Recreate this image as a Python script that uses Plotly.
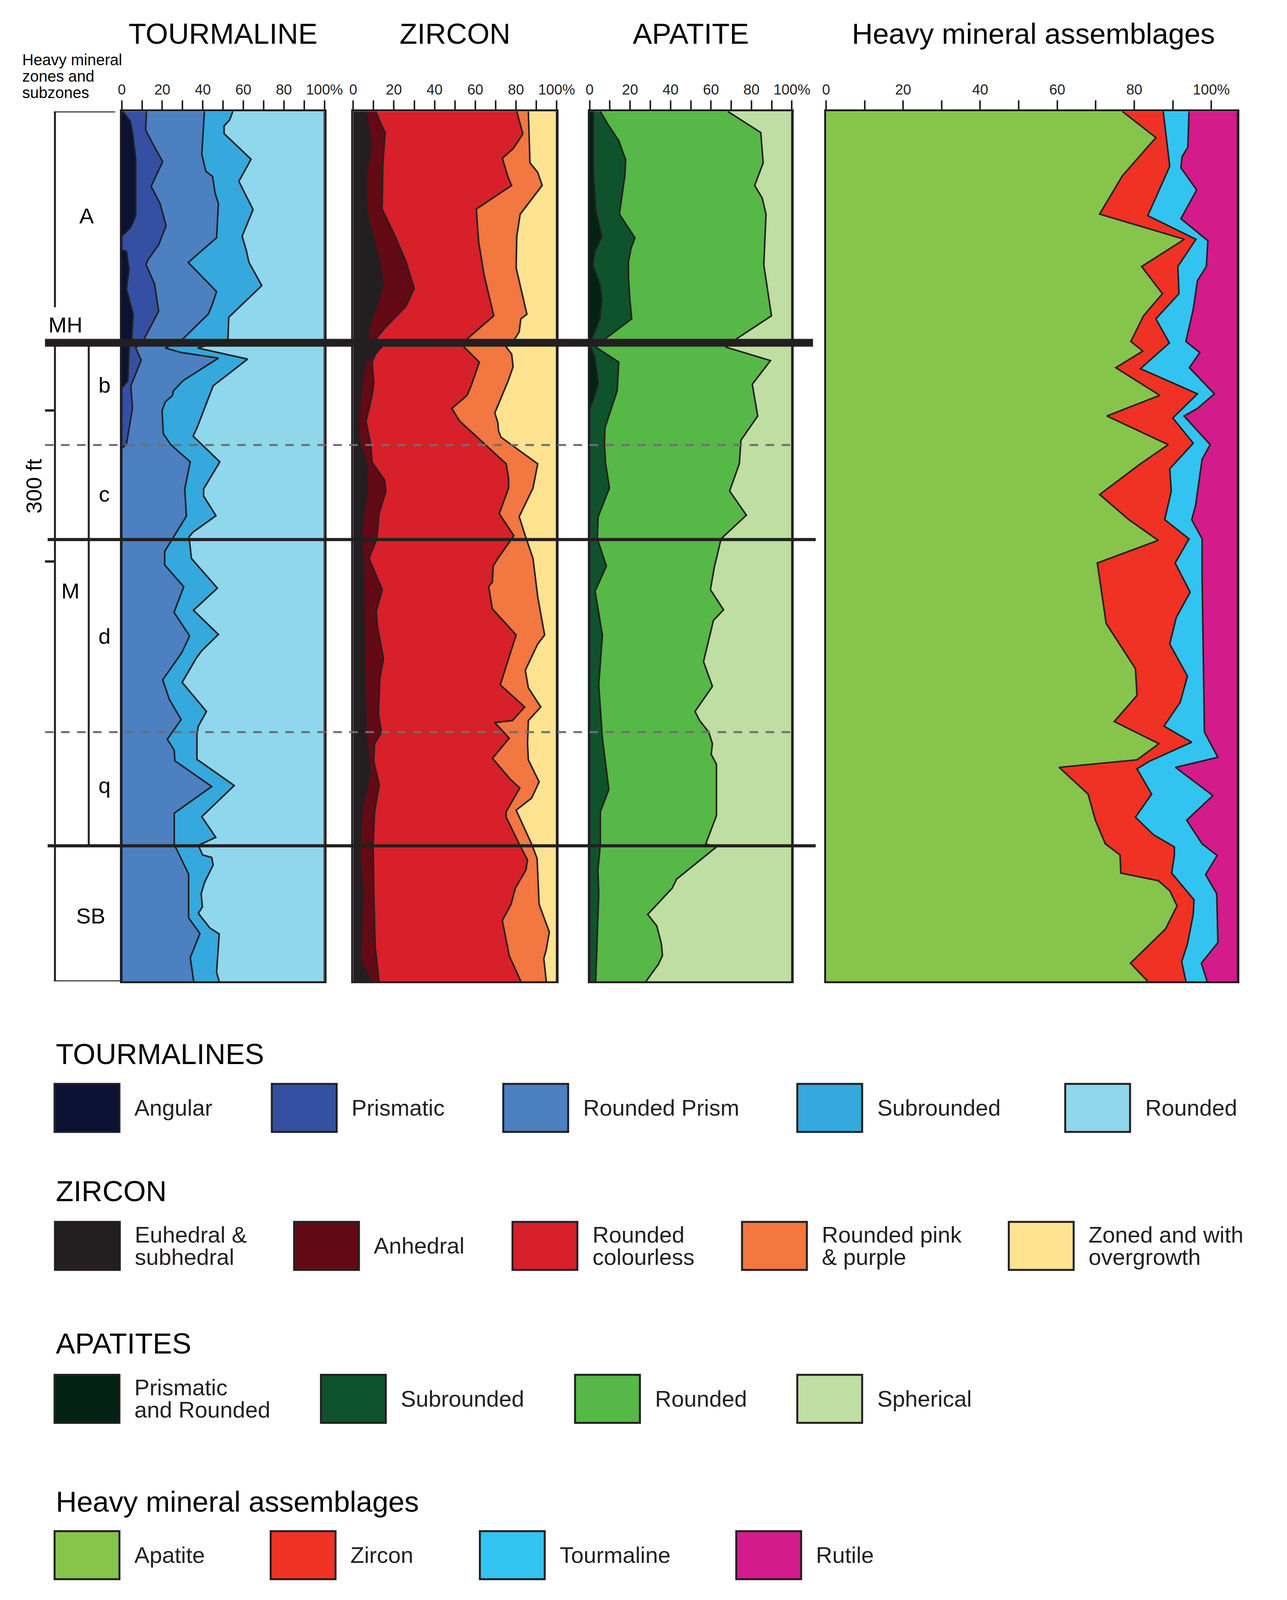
import plotly.graph_objects as go

# frame of the original drawing (px) and the size the figure is drawn at
W, H = 3295, 4157
FIG_H = 4089
INK = "#231f20"
FONT = "Liberation Sans, Arial, Helvetica, sans-serif"

# depth frame, ft below top of the logged section
section_bottom = 1728
zone_depths = [459.5, 850.4, 1458.8]      # tops of M(H), M, SB
subzone_depths = [662.6, 1233.0]          # tops of c and q (dashed)
scale_ticks = [594, 894]                  # 300 ft bar

# ---- TOURMALINE: right edge of each band (cumulative %) against depth ----
tm_angular_d = [0, 20, 51, 95, 207, 231, 248, 275, 278, 314, 353, 402, 453, 470, 535, 545, 550, 1728]
tm_angular_x = [0.5, 4.3, 5.6, 6.9, 6.9, 4.3, 0, 0, 2.3, 3.6, 2.3, 5.6, 4.9, 3.6, 3.0, 1.0, 0, 0]
tm_prismatic_d = [0, 37, 61, 100, 149, 183, 227, 265, 295, 304, 343, 397, 453, 470, 494, 545, 589, 662, 669, 1728]
tm_prismatic_x = [12.2, 11.8, 14.9, 20.2, 14.5, 18.9, 21.9, 18.2, 12.9, 12.0, 16.2, 18.2, 10.9, 6.9, 9.6, 4.5, 5.3, 2.3, 0, 0]
tm_rprism_d = [0, 85, 119, 129, 163, 183, 251, 300, 358, 382, 402, 453, 470, 479, 490, 535, 555, 565, 577, 594,
               640, 662, 696, 750, 804, 847, 874, 901, 944, 995, 1042, 1076, 1129, 1168, 1208, 1247, 1269, 1290,
               1341, 1394, 1458, 1462, 1515, 1602, 1633, 1681, 1728]
tm_rprism_x = [40.8, 39.5, 41.5, 44.8, 46.1, 47.7, 46.8, 32.8, 46.8, 44.8, 42.8, 29.9, 21.5, 29.5, 47.7, 30.2, 25.5,
               24.9, 21.5, 19.9, 20.5, 24.2, 33.8, 31.1, 31.9, 25.3, 21.2, 21.2, 30.6, 25.8, 33.5, 29.5, 20.2, 23.5,
               29.3, 22.5, 25.9, 26.2, 44.4, 25.9, 25.9, 26.6, 33.0, 33.0, 38.6, 33.8, 35.5]
tm_subr_d = [0, 17, 29, 44, 95, 139, 195, 248, 275, 300, 346, 409, 453, 470, 492, 545, 628, 645, 696, 750, 764,
             803, 836, 845, 888, 947, 991, 1039, 1071, 1086, 1134, 1192, 1221, 1238, 1287, 1339, 1401, 1442, 1458,
             1477, 1482, 1497, 1532, 1554, 1580, 1593, 1622, 1634, 1710, 1728]
tm_subr_x = [54.8, 53.2, 50.5, 50.5, 63.8, 57.8, 64.8, 59.4, 61.4, 62.8, 69.1, 52.8, 52.4, 37.5, 62.1, 45.1, 37.2,
             35.2, 48.4, 40.4, 40.4, 46.5, 35.1, 33.2, 34.4, 47.2, 35.4, 47.7, 39.5, 36.8, 29.8, 41.8, 37.8, 37.1,
             37.1, 55.5, 39.5, 46.4, 37.8, 39.9, 44.4, 45.1, 40.8, 39.2, 39.8, 37.8, 43.5, 48.1, 46.8, 48.1]
tm_rounded_d = [0, 1728]
tm_rounded_x = [100, 100]

# ---- ZIRCON ----
zr_euhedral_d = [0, 42, 64, 93, 121, 197, 254, 298, 343, 374, 419, 452, 468, 482, 498, 564, 628, 662, 697, 754,
                 805, 849, 906, 1081, 1233, 1315, 1338, 1391, 1478, 1548, 1689, 1728]
zr_euhedral_x = [6.3, 8.1, 8.9, 8.1, 6.3, 6.6, 10.1, 13.1, 14.6, 12.7, 8.6, 7.1, 14, 11, 6, 3.6, 2.6, 3.5, 6.5, 7,
                 4.8, 4.2, 5.1, 5.6, 6.3, 8.6, 7.1, 4.1, 3.3, 4.8, 3.6, 9]
zr_anhedral_d = [0, 20, 42, 102, 194, 248, 298, 352, 387, 412, 431, 452, 468, 482, 498, 539, 564, 590, 615, 662,
                 697, 732, 754, 799, 849, 888, 950, 993, 1023, 1087, 1125, 1198, 1233, 1256, 1291, 1338, 1391, 1455,
                 1548, 1659, 1728]
zr_anhedral_x = [11.1, 13.1, 15.7, 14.6, 14.2, 20.6, 25.9, 30, 25.9, 19.9, 15.4, 11.1, 14, 11, 9.3, 10.1, 9.3, 7.8,
                 6.3, 8.6, 9.3, 15.4, 16.1, 12.7, 11.6, 7.8, 14.3, 11.3, 11.9, 14.9, 13.1, 12.4, 13.9, 10.5, 10.1,
                 12.8, 10.5, 9.8, 10.1, 10.8, 12.7]
zr_colourless_d = [0, 45, 74, 93, 134, 147, 194, 260, 324, 406, 452, 468, 498, 545, 564, 590, 615, 700, 729, 748,
                   799, 843, 888, 903, 935, 944, 988, 1040, 1139, 1183, 1210, 1212, 1214, 1245, 1285, 1326, 1344,
                   1391, 1402, 1455, 1487, 1507, 1543, 1575, 1607, 1654, 1677, 1728]
zr_colourless_x = [80.4, 83.4, 78.6, 73.3, 76.4, 77.9, 60.5, 61.7, 64.3, 69.1, 56, 54.5, 62, 58, 56, 48.5, 52.3,
                   75.2, 76.4, 76.4, 71.8, 79, 71.1, 68.8, 68.4, 66.6, 68.4, 80.1, 72.3, 84.3, 78.3, 73.5, 69.6,
                   76.7, 68.5, 77.1, 81.9, 75.2, 75.2, 81.6, 85.7, 84.9, 79.7, 77.6, 73.3, 75.6, 76.7, 82.4]
zr_pink_d = [0, 102, 121, 147, 204, 248, 311, 362, 403, 412, 438, 452, 468, 482, 507, 533, 599, 618, 634, 647, 700,
             748, 805, 843, 888, 964, 1040, 1058, 1110, 1145, 1183, 1210, 1256, 1288, 1332, 1364, 1388, 1455, 1484,
             1575, 1630, 1665, 1683, 1728]
zr_pink_x = [86.1, 86.9, 90.7, 92.9, 82.1, 80.4, 80.1, 83.1, 85.4, 82.4, 81.6, 79.4, 75.2, 77.9, 78.6, 76.4, 69.6,
             71.1, 71.4, 72.6, 90.7, 88.4, 81.6, 84.6, 88.4, 90.7, 94.1, 90.7, 84.6, 86.1, 92.2, 86.1, 85.7, 86.1,
             91.4, 87.7, 80.1, 87.7, 90.4, 91.4, 96.4, 94.9, 93.7, 94.9]
zr_zoned_d = [0, 1728]
zr_zoned_x = [100, 100]

# ---- APATITE ----
ap_prismatic_d = [0, 121, 197, 248, 279, 305, 343, 374, 412, 452, 468, 488, 539, 564, 590, 1728]
ap_prismatic_x = [1.8, 1.8, 3, 6, 2.5, 1.5, 5, 6, 5, 1, 0.3, 2.5, 4.2, 2.5, 0, 0]
ap_subr_d = [0, 26, 58, 96, 128, 204, 251, 273, 298, 330, 374, 412, 452, 468, 498, 555, 628, 662, 700, 748, 805,
             849, 903, 953, 1040, 1139, 1245, 1347, 1391, 1455, 1507, 1554, 1728]
ap_subr_x = [5.3, 9.1, 14.4, 17.8, 17.4, 14.7, 22.4, 20.4, 19.2, 19.2, 19.9, 20.8, 7.6, 3, 14.4, 13.6, 7.6, 7.3, 7.9,
             9.8, 4.2, 3.8, 8.3, 2.7, 6.3, 4.5, 6.3, 9.5, 5.3, 5.3, 4.1, 4.5, 3]
ap_rounded_d = [0, 42, 102, 147, 172, 204, 305, 406, 452, 468, 495, 542, 605, 653, 700, 754, 802, 849, 906, 950,
                990, 1011, 1093, 1142, 1192, 1210, 1233, 1256, 1277, 1297, 1399, 1455, 1461, 1525, 1543, 1595, 1618,
                1654, 1677, 1694, 1728]
ap_rounded_x = [68.3, 84.6, 85.8, 81.6, 85.3, 87.2, 86.1, 89.9, 72.5, 67.2, 89.4, 80.4, 83.1, 74.8, 74, 69.2, 77.5,
                65, 61.6, 59.7, 66.2, 61.2, 56.3, 60.7, 52.1, 54.4, 58.9, 60.7, 60.1, 62.7, 62.7, 57.4, 62.7, 43,
                40.8, 28.7, 33.2, 35.5, 36, 34, 27.9]
ap_spherical_d = [0, 1728]
ap_spherical_x = [100, 100]

# ---- HEAVY MINERAL ASSEMBLAGES ----
hm_apatite_d = [0, 52, 128, 204, 254, 308, 362, 406, 457, 476, 509, 564, 605, 662, 700, 761, 811, 852, 897, 1017,
                1107, 1160, 1212, 1256, 1288, 1303, 1356, 1408, 1455, 1477, 1513, 1528, 1548, 1578, 1624, 1692, 1728]
hm_apatite_x = [76.9, 85.6, 76.9, 71, 93, 81.9, 87.3, 82.4, 79.1, 82.2, 75.2, 86.6, 72.9, 88.8, 81.6, 71, 78.6,
                86.2, 70.4, 72.7, 80.3, 80.7, 74.8, 86.4, 80.7, 60.5, 68, 69.9, 72.5, 76.3, 76.5, 86.2, 89.2, 91.1,
                88.1, 79, 83.5]
hm_zircon_d = [0, 109, 207, 254, 308, 362, 412, 460, 511, 561, 609, 659, 710, 754, 811, 849, 897, 955, 1005, 1058,
               1122, 1174, 1221, 1253, 1291, 1306, 1356, 1402, 1437, 1461, 1478, 1513, 1566, 1595, 1654, 1689, 1728]
hm_zircon_x = [87.5, 89.2, 83.5, 96, 91.3, 91.6, 85.6, 89.1, 81.6, 96.4, 90, 95.3, 89.2, 89.6, 87.9, 94.2, 90.6,
               94.5, 90.9, 89.2, 93.8, 91.9, 87.7, 94.9, 83.9, 80.7, 84.5, 80.3, 85, 90.4, 90.4, 89.7, 95.5, 95.3,
               93.8, 92.3, 93.4]
hm_tourm_d = [0, 71, 90, 112, 156, 213, 257, 308, 336, 393, 457, 479, 509, 561, 590, 605, 662, 691, 783, 811, 849,
              924, 1233, 1283, 1303, 1359, 1408, 1455, 1478, 1516, 1554, 1651, 1692, 1728]
hm_tourm_x = [94.2, 93.9, 92.4, 92.1, 96.2, 92.1, 99.1, 98.7, 96.4, 95.3, 93.4, 97, 94.3, 100.8, 96.4, 92.9, 99.7,
              97.6, 95.9, 94.9, 97.6, 97.6, 98.2, 101.7, 90.7, 100.4, 93.6, 97.6, 101.5, 98.5, 101.4, 101.7, 97.4,
              98.9]
hm_rutile_d = [0, 1728]
hm_rutile_x = [106.8, 106.8]

# legend names and colours
tm_names = ["Angular", "Prismatic", "Rounded Prism", "Subrounded", "Rounded"]
tm_colors = ["#0b1233", "#3550a2", "#4c80c1", "#35a8de", "#8fd7ec"]
zr_names = ["Euhedral &\nsubhedral", "Anhedral", "Rounded\ncolourless", "Rounded pink\n& purple", "Zoned and with\novergrowth"]
zr_colors = ["#231f20", "#630a15", "#d7202a", "#f27740", "#fde290"]
ap_names = ["Prismatic\nand Rounded", "Subrounded", "Rounded", "Spherical"]
ap_colors = ["#032314", "#0f532c", "#56b847", "#bfdea2"]
hm_names = ["Apatite", "Zircon", "Tourmaline", "Rutile"]
hm_colors = ["#86c44c", "#ef3224", "#33c3f0", "#d31b8c"]

zone_names = ["A", "MH", "M", "SB"]
zone_label_depth = [207, 424, 952, 1598]
subzone_names = ["b", "c", "d", "q"]
subzone_label_depth = [543, 760, 1042, 1339]


def fx(p):
    return p / W


def fy(p):
    return 1 - p / H


ydom = [fy(2554), fy(290)]

panels = [
    ("TOURMALINE", 307, 835, 100, [(tm_angular_d, tm_angular_x), (tm_prismatic_d, tm_prismatic_x),
                                   (tm_rprism_d, tm_rprism_x), (tm_subr_d, tm_subr_x),
                                   (tm_rounded_d, tm_rounded_x)], tm_colors),
    ("ZIRCON", 910, 1440, 100, [(zr_euhedral_d, zr_euhedral_x), (zr_anhedral_d, zr_anhedral_x),
                                (zr_colourless_d, zr_colourless_x), (zr_pink_d, zr_pink_x),
                                (zr_zoned_d, zr_zoned_x)], zr_colors),
    ("APATITE", 1526, 2053, 100, [(ap_prismatic_d, ap_prismatic_x), (ap_subr_d, ap_subr_x),
                                  (ap_rounded_d, ap_rounded_x), (ap_spherical_d, ap_spherical_x)], ap_colors),
    ("Heavy mineral assemblages", 2142, 3214, 106.8, [(hm_apatite_d, hm_apatite_x), (hm_zircon_d, hm_zircon_x),
                                                       (hm_tourm_d, hm_tourm_x), (hm_rutile_d, hm_rutile_x)], hm_colors),
]

fig = go.Figure()
annotations = []
shapes = []
layout = {}

for n, (title, left, right, xmax, bands, colors) in enumerate(panels, start=1):
    sx = "" if n == 1 else str(n)
    for i, ((d, x), col) in enumerate(zip(bands, colors)):
        fig.add_trace(go.Scatter(
            x=x, y=d, xaxis="x" + sx, yaxis="y" + sx, mode="lines",
            line=dict(color=INK, width=4),
            fill="tozerox" if i == 0 else "tonextx", fillcolor=col,
            hoverinfo="skip", showlegend=False,
        ))
    layout["xaxis" + sx] = dict(
        domain=[fx(left), fx(right)], range=[0, xmax], side="top", anchor="y" + sx,
        showline=True, mirror=True, linecolor=INK, linewidth=5,
        ticks="outside", ticklen=23, tickwidth=4, tickcolor=INK,
        tickvals=[0, 20, 40, 60, 80, 100], ticktext=["0", "20", "40", "60", "80", "100%"],
        tickfont=dict(family=FONT, size=37, color=INK),
        minor=dict(tickvals=[10, 30, 50, 70, 90], ticks="outside", ticklen=23, tickwidth=4, tickcolor=INK),
        showgrid=False, zeroline=False, fixedrange=True,
    )
    layout["yaxis" + sx] = dict(
        domain=ydom, range=[section_bottom, 0], anchor="x" + sx,
        showline=True, mirror=True, linecolor=INK, linewidth=5,
        showticklabels=False, ticks="", showgrid=False, zeroline=False, fixedrange=True,
    )
    annotations.append(dict(text=title, x=fx((left + right) / 2 if n < 4 else 2682), y=fy(88),
                            xref="paper", yref="paper", showarrow=False, xanchor="center", yanchor="middle",
                            font=dict(family=FONT, size=74, color="#000000")))

# zone boundaries across the columns
for k, dep in enumerate(zone_depths):
    shapes.append(dict(type="line", xref="paper", yref="y", x0=fx(107 if k == 0 else 114),
                       x1=fx(2108 if k == 0 else 2115), y0=dep, y1=dep,
                       line=dict(color=INK, width=20 if k == 0 else 8)))
for dep in subzone_depths:
    shapes.append(dict(type="line", xref="paper", yref="y", x0=fx(107), x1=fx(2053), y0=dep, y1=dep,
                       line=dict(color="#6d6e71", width=5, dash="22px,19px")))

# zone column frame
frame = [
    (133, 0, 133, 389), (133, zone_depths[0], 133, section_bottom),
    (130, 0, 290, 0), (130, section_bottom, 307, section_bottom),
    (221, zone_depths[0], 221, zone_depths[2]),
]
for x0, y0, x1, y1 in frame:
    shapes.append(dict(type="line", xref="paper", yref="y", x0=fx(x0), x1=fx(x1), y0=y0, y1=y1,
                       line=dict(color=INK, width=5)))
for dep in scale_ticks:
    shapes.append(dict(type="line", xref="paper", yref="y", x0=fx(107), x1=fx(133), y0=dep, y1=dep,
                       line=dict(color=INK, width=6)))

for name, dep, px in zip(zone_names, zone_label_depth, [216, 160, 174, 226]):
    annotations.append(dict(text=name, x=fx(px), y=dep, xref="paper", yref="y", showarrow=False,
                            xanchor="center", yanchor="middle", font=dict(family=FONT, size=56, color="#000000")))
for name, dep in zip(subzone_names, subzone_label_depth):
    annotations.append(dict(text=name, x=fx(262), y=dep, xref="paper", yref="y", showarrow=False,
                            xanchor="center", yanchor="middle", font=dict(family=FONT, size=56, color="#000000")))
annotations.append(dict(text="300 ft", x=fx(77), y=(scale_ticks[0] + scale_ticks[1]) / 2, xref="paper",
                        yref="y", showarrow=False, textangle=-90, xanchor="center", yanchor="middle",
                        font=dict(family=FONT, size=56, color="#000000")))
for line, py in zip(["Heavy mineral", "zones and", "subzones"], [156, 198, 241]):
    annotations.append(dict(text=line, x=fx(46), y=fy(py), xref="paper", yref="paper", showarrow=False,
                            xanchor="left", yanchor="middle", font=dict(family=FONT, size=40, color="#000000")))

# legend blocks
legend_rows = [
    ("TOURMALINES", tm_names, tm_colors, 2743, 2821, [132, 698, 1301, 2067, 2765]),
    ("ZIRCON", zr_names, zr_colors, 3100, 3180, [133, 756, 1325, 1923, 2618]),
    ("APATITES", ap_names, ap_colors, 3497, 3578, [132, 826, 1488, 2067]),
    ("Heavy mineral assemblages", hm_names, hm_colors, 3908, 3985, [132, 695, 1240, 1908]),
]
for title, names, colors, ty, top, lefts in legend_rows:
    annotations.append(dict(text=title, x=fx(133), y=fy(ty), xref="paper", yref="paper", showarrow=False,
                            xanchor="left", yanchor="middle", font=dict(family=FONT, size=74, color="#000000")))
    for name, col, left in zip(names, colors, lefts):
        shapes.append(dict(type="rect", xref="paper", yref="paper", x0=fx(left), x1=fx(left + 169),
                           y0=fy(top + 125), y1=fy(top), fillcolor=col, line=dict(color=INK, width=5)))
        lines = name.split("\n")
        for j, txt in enumerate(lines):
            cy = top + 62 + (j - (len(lines) - 1) / 2) * 58
            annotations.append(dict(text=txt, x=fx(left + 206), y=fy(cy), xref="paper", yref="paper",
                                    showarrow=False, xanchor="left", yanchor="middle",
                                    font=dict(family=FONT, size=58, color=INK)))

fig.update_layout(**layout)
fig.update_layout(width=W, height=FIG_H, margin=dict(l=0, r=0, t=0, b=0), paper_bgcolor="white",
                  plot_bgcolor="white", showlegend=False, annotations=annotations, shapes=shapes)
fig.write_html("out.html", config={"displayModeBar": False},
               post_script="document.body.style.margin='0';document.body.style.overflow='hidden';")
